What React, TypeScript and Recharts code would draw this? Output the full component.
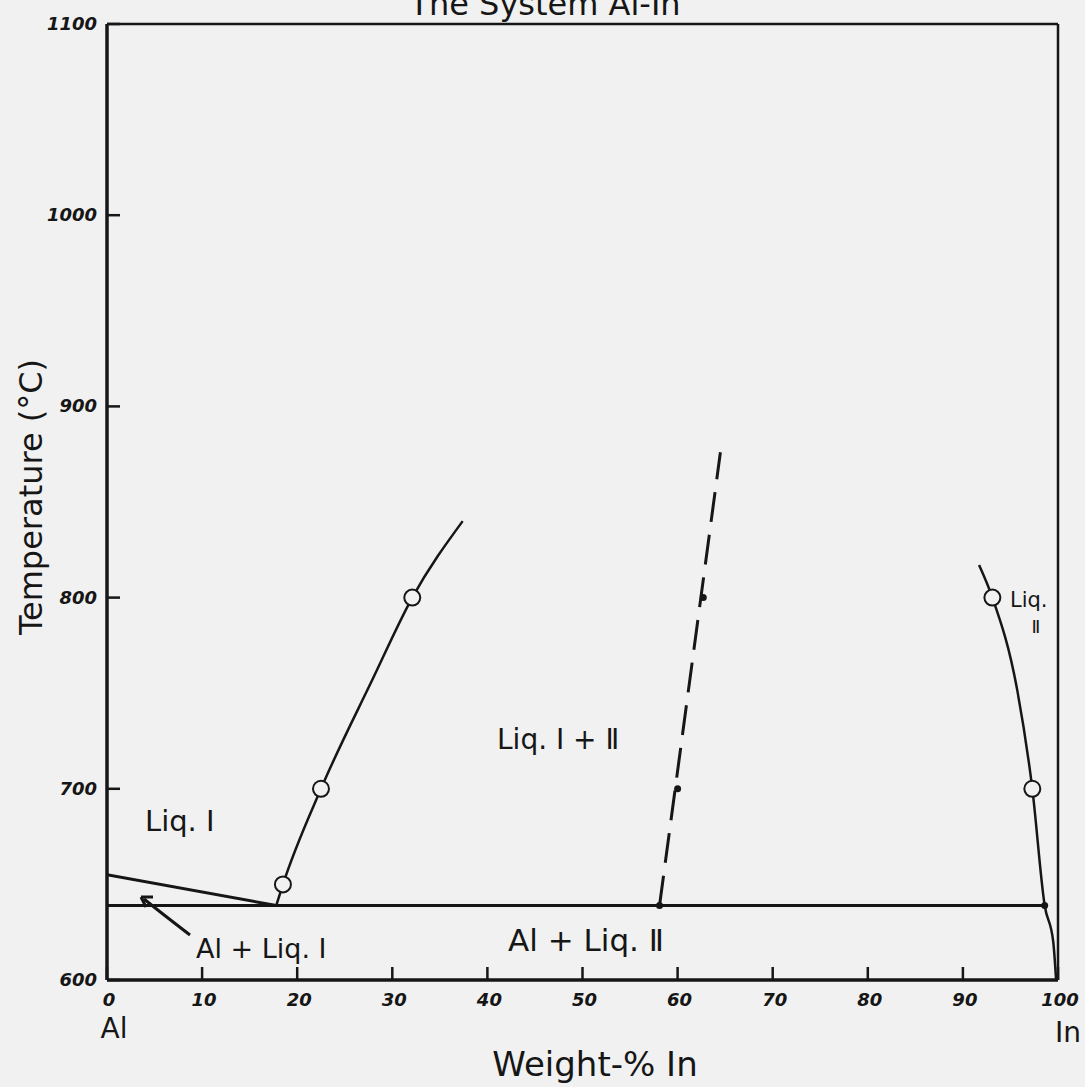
import React from "react";
import {
  ComposedChart,
  Line,
  Scatter,
  XAxis,
  YAxis,
  ReferenceLine,
} from "recharts";

// temperature in °C against weight-% In
const xTicks = [0, 10, 20, 30, 40, 50, 60, 70, 80, 90, 100];
const yTicks = [600, 700, 800, 900, 1000, 1100];

const monotecticLine = [
  { x: 0, t: 639 },
  { x: 98.6, t: 639 },
];
const alLiquidus = [
  { x: 0, t: 655 },
  { x: 17.8, t: 639 },
];
const liqOneBoundary = [
  { x: 17.8, t: 639 },
  { x: 18.5, t: 650 },
  { x: 22.5, t: 700 },
  { x: 27.9, t: 757 },
  { x: 32.1, t: 800 },
  { x: 37.4, t: 840 },
];
const liqTwoBoundary = [
  { x: 91.7, t: 817 },
  { x: 93.1, t: 800 },
  { x: 95.7, t: 752 },
  { x: 97.3, t: 700 },
  { x: 98.6, t: 639 },
  { x: 99.5, t: 620 },
  { x: 99.8, t: 600 },
];
const criticalLine = [
  { x: 58.1, t: 639 },
  { x: 64.5, t: 876 },
];
const measured = [
  { x: 18.5, t: 650 },
  { x: 22.5, t: 700 },
  { x: 32.1, t: 800 },
  { x: 93.1, t: 800 },
  { x: 97.3, t: 700 },
];
const criticalDots = [
  { x: 60.0, t: 700 },
  { x: 62.7, t: 800 },
];
const invariantDots = [
  { x: 58.1, t: 639 },
  { x: 98.6, t: 639 },
];

const INK = "#161616";
const PAPER = "#f1f1f1";
const FONT = "'DejaVu Sans', sans-serif";

function XTick(props: any) {
  const { x, y, payload } = props;
  return (
    <g>
      <line x1={x} y1={y} x2={x} y2={y - 13} stroke={INK} strokeWidth={2.5} />
      <text x={x + 2} y={y + 26} textAnchor="middle" fontSize={18} fontWeight="bold" fontStyle="italic" fill={INK} fontFamily={FONT}>
        {payload.value}
      </text>
    </g>
  );
}

function YTick(props: any) {
  const { x, y, payload } = props;
  return (
    <g>
      <line x1={x} y1={y} x2={x + 13} y2={y} stroke={INK} strokeWidth={2.5} />
      <text x={x - 10} y={y + 6} textAnchor="end" fontSize={18} fontWeight="bold" fontStyle="italic" fill={INK} fontFamily={FONT}>
        {payload.value}
      </text>
    </g>
  );
}

const OpenCircle = (props: any) => (
  <circle cx={props.cx} cy={props.cy} r={8} fill={PAPER} stroke={INK} strokeWidth={2} />
);
const SmallDot = (props: any) => (
  <circle cx={props.cx} cy={props.cy} r={3.5} fill={INK} />
);

export default function App() {
  const label = { fontFamily: FONT, fill: INK } as const;
  return (
    <div style={{ position: "absolute", left: 0, top: 0, width: 1085, height: 1087, background: PAPER }}>
      <ComposedChart width={1085} height={1087} margin={{ top: 24, right: 27, bottom: 77, left: 67 }}>
        <XAxis
          dataKey="x"
          type="number"
          domain={[0, 100]}
          ticks={xTicks}
          interval={0}
          height={30}
          tickSize={0}
          tickMargin={0}
          tick={<XTick />}
          axisLine={{ stroke: INK, strokeWidth: 3.5 }}
          allowDataOverflow
        />
        <YAxis
          dataKey="t"
          type="number"
          domain={[600, 1100]}
          ticks={yTicks}
          interval={0}
          width={40}
          tickSize={0}
          tickMargin={0}
          tick={<YTick />}
          axisLine={{ stroke: INK, strokeWidth: 3.5 }}
          allowDataOverflow
        />
        <ReferenceLine y={1100} stroke={INK} strokeWidth={2.5} />
        <ReferenceLine x={100} stroke={INK} strokeWidth={2.5} />

        <Line data={monotecticLine} dataKey="t" stroke={INK} strokeWidth={3} dot={false} isAnimationActive={false} />
        <Line data={alLiquidus} dataKey="t" stroke={INK} strokeWidth={3} dot={false} isAnimationActive={false} />
        <Line data={liqOneBoundary} dataKey="t" type="monotone" stroke={INK} strokeWidth={2.5} dot={false} isAnimationActive={false} />
        <Line data={liqTwoBoundary} dataKey="t" type="monotone" stroke={INK} strokeWidth={2.5} dot={false} isAnimationActive={false} />
        <Line data={criticalLine} dataKey="t" stroke={INK} strokeWidth={3} strokeDasharray="30 13" dot={false} isAnimationActive={false} />

        <Scatter data={measured} dataKey="t" shape={<OpenCircle />} isAnimationActive={false} />
        <Scatter data={criticalDots} dataKey="t" shape={<SmallDot />} isAnimationActive={false} />
        <Scatter data={invariantDots} dataKey="t" shape={<SmallDot />} isAnimationActive={false} />
      </ComposedChart>

      <svg width={1085} height={1087} style={{ position: "absolute", left: 0, top: 0, pointerEvents: "none" }}>
        <text x={545} y={15} textAnchor="middle" fontSize={32} {...label}>The System Al-In</text>
        <text transform="translate(42 497) rotate(-90)" textAnchor="middle" fontSize={32} {...label}>Temperature (°C)</text>
        <text x={595} y={1076} textAnchor="middle" fontSize={34} {...label}>Weight-% In</text>
        <text x={114} y={1038} textAnchor="middle" fontSize={28} {...label}>Al</text>
        <text x={1068} y={1042} textAnchor="middle" fontSize={28} {...label}>In</text>

        <text x={145} y={831} fontSize={29} {...label}>Liq. Ⅰ</text>
        <text x={497} y={749} fontSize={28} {...label}>Liq. Ⅰ + Ⅱ</text>
        <text x={508} y={951} fontSize={31} {...label}>Al + Liq. Ⅱ</text>
        <text x={196} y={958} fontSize={27} {...label}>Al + Liq. Ⅰ</text>
        <text x={1010} y={607} fontSize={21} {...label}>Liq.</text>
        <text x={1036} y={633} textAnchor="middle" fontSize={18} {...label}>Ⅱ</text>

        <path d="M 190 935 Q 160 912 144 899" fill="none" stroke={INK} strokeWidth={3} />
        <path d="M 141 897 L 153 897 M 141 897 L 146 907" fill="none" stroke={INK} strokeWidth={3} />
      </svg>
    </div>
  );
}
